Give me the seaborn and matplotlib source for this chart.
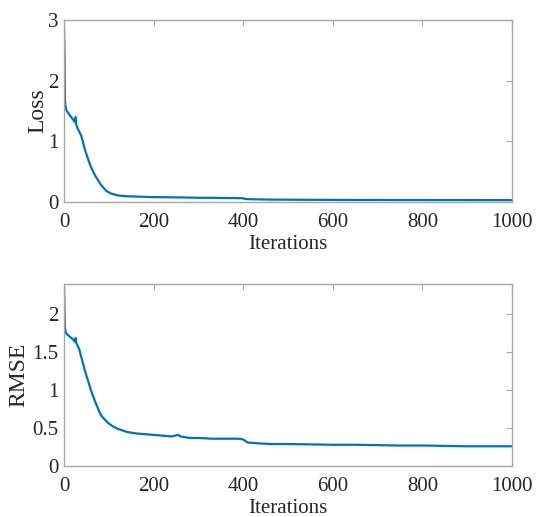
import matplotlib
matplotlib.use("Agg")
import matplotlib.pyplot as plt
import numpy as np
import pandas as pd
import seaborn as sns

# values
loss_iters = [0, 1, 2, 3, 5, 8, 12, 16, 20, 24, 26, 27, 30, 34, 38, 42, 46, 50,
              55, 60, 65, 70, 75, 80, 85, 90, 95, 100, 105, 110, 120, 130, 140,
              160, 180, 200, 230, 260, 300, 340, 380, 400, 405, 420, 460, 500,
              560, 600, 650, 700, 750, 800, 850, 900, 950, 1000]
loss_vals = [2.9, 2.5, 1.7, 1.6, 1.52, 1.48, 1.44, 1.40, 1.36, 1.32, 1.40, 1.28,
             1.22, 1.16, 1.10, 1.00, 0.88, 0.79, 0.68, 0.58, 0.50, 0.43, 0.37,
             0.31, 0.26, 0.22, 0.18, 0.16, 0.14, 0.13, 0.11, 0.10, 0.095, 0.09,
             0.085, 0.08, 0.078, 0.075, 0.07, 0.068, 0.065, 0.062, 0.05, 0.045,
             0.04, 0.038, 0.036, 0.035, 0.034, 0.034, 0.033, 0.033, 0.032, 0.032,
             0.031, 0.031]

rmse_iters = [0, 1, 2, 4, 8, 12, 16, 20, 24, 26, 27, 30, 34, 38, 42, 46, 50, 55,
              60, 65, 70, 75, 80, 85, 90, 95, 100, 110, 120, 130, 140, 160, 180,
              200, 220, 240, 255, 260, 280, 300, 330, 360, 390, 400, 410, 430,
              460, 500, 550, 600, 650, 700, 750, 800, 850, 900, 950, 1000]
rmse_vals = [2.4, 2.1, 1.82, 1.76, 1.73, 1.71, 1.69, 1.67, 1.64, 1.69, 1.63, 1.59,
             1.54, 1.45, 1.36, 1.27, 1.19, 1.10, 1.00, 0.92, 0.84, 0.77, 0.70,
             0.65, 0.62, 0.59, 0.56, 0.52, 0.49, 0.47, 0.45, 0.43, 0.42, 0.41,
             0.40, 0.39, 0.41, 0.39, 0.37, 0.37, 0.36, 0.36, 0.36, 0.35, 0.31,
             0.30, 0.29, 0.29, 0.285, 0.28, 0.28, 0.275, 0.27, 0.27, 0.265, 0.26,
             0.26, 0.26]

x_ticks = [0, 200, 400, 600, 800, 1000]
loss_ticks = [0, 1, 2, 3]
rmse_ticks = [0, 0.5, 1, 1.5, 2]
rmse_tick_labels = ["0", "0.5", "1", "1.5", "2"]

sns.set_theme(style="white")
plt.rcParams["font.family"] = ["Liberation Serif", "DejaVu Serif"]

LINE_COLOR = "#0072BD"
SPINE_COLOR = "#a6a6a6"
TEXT_COLOR = "#262626"

fig = plt.figure(figsize=(5.39, 5.17), dpi=100)
ax1 = fig.add_axes([64 / 539, 1 - 202 / 517, 448 / 539, 182 / 517])
ax2 = fig.add_axes([64 / 539, 1 - 466 / 517, 448 / 539, 182 / 517])

loss_df = pd.DataFrame({"Iterations": loss_iters, "Loss": loss_vals})
rmse_df = pd.DataFrame({"Iterations": rmse_iters, "RMSE": rmse_vals})

sns.lineplot(data=loss_df, x="Iterations", y="Loss", ax=ax1,
             color=LINE_COLOR, linewidth=1.6)
sns.lineplot(data=rmse_df, x="Iterations", y="RMSE", ax=ax2,
             color=LINE_COLOR, linewidth=1.6)

ax1.set_ylim(0, 3)
ax1.set_yticks(loss_ticks)
ax1.set_yticklabels([str(t) for t in loss_ticks])
ax2.set_ylim(0, 2.4)
ax2.set_yticks(rmse_ticks)
ax2.set_yticklabels(rmse_tick_labels)

for ax in (ax1, ax2):
    ax.set_xlim(0, 1000)
    ax.set_xticks(x_ticks)
    ax.set_xticklabels([str(t) for t in x_ticks])
    for sp in ax.spines.values():
        sp.set_visible(True)
        sp.set_color(SPINE_COLOR)
        sp.set_linewidth(1.0)
    ax.tick_params(direction="in", length=4, width=0.8, color=SPINE_COLOR,
                   top=True, right=True, labelsize=15, labelcolor=TEXT_COLOR)
    ax.tick_params(axis="x", pad=8)
    ax.tick_params(axis="y", pad=4)
    ax.set_xlabel("Iterations", fontsize=15, color=TEXT_COLOR, labelpad=2)
    ax.yaxis.label.set_size(17)
    ax.yaxis.label.set_color(TEXT_COLOR)

ax1.set_ylabel("Loss", labelpad=0)
ax2.set_ylabel("RMSE", labelpad=2)

fig.savefig("out.png", dpi=100)
